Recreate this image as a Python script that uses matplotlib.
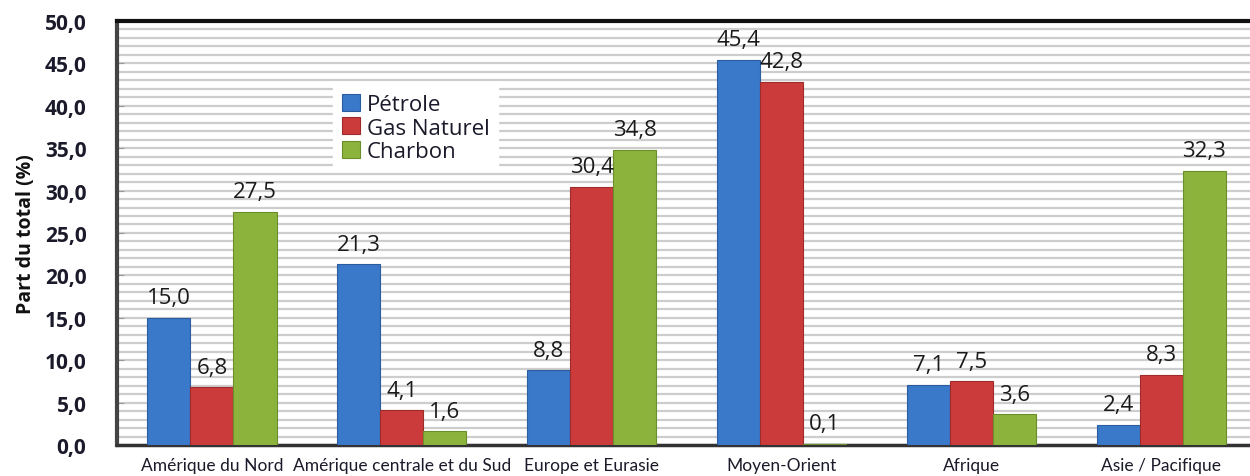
import matplotlib
matplotlib.use("Agg")
import matplotlib.pyplot as plt
import numpy as np

categories = ["Amérique du Nord", "Amérique centrale et du Sud", "Europe et Eurasie",
              "Moyen-Orient", "Afrique", "Asie / Pacifique"]
series_names = ["Pétrole", "Gas Naturel", "Charbon"]
petrole = [15.0, 21.3, 8.8, 45.4, 7.1, 2.4]
gaz = [6.8, 4.1, 30.4, 42.8, 7.5, 8.3]
charbon = [27.5, 1.6, 34.8, 0.1, 3.6, 32.3]
yticks = [0, 5, 10, 15, 20, 25, 30, 35, 40, 45, 50]

colors = ["#3A78C9", "#CC3B3B", "#8CB43C"]
edges = ["#2A5C9E", "#9E2A2A", "#6A8E2A"]

plt.rcParams['font.family'] = ['Open Sans', 'DejaVu Sans']

fig = plt.figure(figsize=(12.5, 4.77), dpi=100)
ax = fig.add_axes([0.0936, 0.065, 0.9064, 0.889])

x = np.arange(len(categories))
w = 0.227
for i, (vals, c, ec, name) in enumerate(zip([petrole, gaz, charbon], colors, edges, series_names)):
    xs = x + (i - 1) * w
    ax.bar(xs, vals, width=w, color=c, edgecolor=ec, linewidth=0.8, label=name, zorder=3)
    for xi, v in zip(xs, vals):
        ax.annotate(f"{v:.1f}".replace(".", ","), (xi, v), xytext=(0, 7),
                    textcoords="offset points", ha="center", va="bottom",
                    fontsize=16, color="#1a1a1a", zorder=5)

ax.set_ylim(0, 50)
ax.set_xlim(-0.5, 5.468)
ax.set_yticks(yticks)
ax.set_yticklabels([f"{t:.1f}".replace(".", ",") for t in yticks], fontsize=15,
                   fontweight="bold", color="#1a1a2a")
ax.set_yticks(np.arange(0, 51, 1), minor=True)
ax.yaxis.grid(True, which="both", color="#cdcdcd", linewidth=1.6, zorder=0)
ax.tick_params(axis="y", which="major", direction="in", length=5, color="#999999", pad=22)
ax.tick_params(axis="y", which="minor", length=0)
ax.set_xticks(x)
ax.set_xticklabels(categories, fontsize=12.5, color="#1a1a2a",
                   family=['Lato', 'DejaVu Sans'])
ax.tick_params(axis="x", length=0, pad=9)
ax.set_axisbelow(True)

ax.set_ylabel("Part du total (%)", fontsize=14, fontweight="bold", color="#111111", labelpad=6)

ax.spines["top"].set_color("#111111")
ax.spines["top"].set_linewidth(3)
ax.spines["left"].set_color("#444444")
ax.spines["left"].set_linewidth(3)
ax.spines["bottom"].set_color("#333333")
ax.spines["bottom"].set_linewidth(2.5)
ax.spines["right"].set_visible(False)

leg = ax.legend(loc="upper left", bbox_to_anchor=(0.181, 0.875), fontsize=16,
                frameon=True, fancybox=False, edgecolor="white", facecolor="white",
                framealpha=1, handlelength=0.8, handleheight=0.8, handletextpad=0.3,
                labelspacing=0.1, borderpad=0.4)
for t in leg.get_texts():
    t.set_color("#1a1a2a")

fig.savefig("out.png", dpi=100, facecolor="white")
